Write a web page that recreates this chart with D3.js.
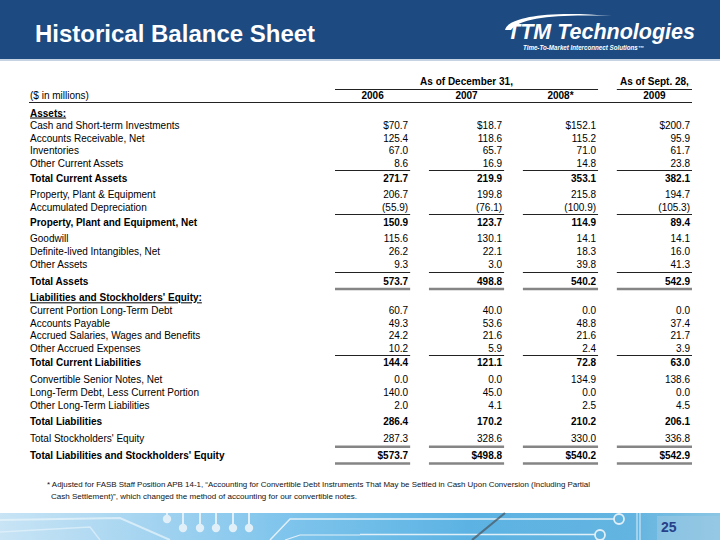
<!DOCTYPE html>
<html><head><meta charset="utf-8">
<script src="https://cdn.jsdelivr.net/npm/d3@7"></script>
<style>
body{margin:0;background:#fff}
svg{display:block}
text{font-family:"Liberation Sans",Arial,Helvetica,sans-serif}
</style>
</head><body><svg id="c" width="720" height="540"></svg>
<script>
// ---------------- data ----------------
const title = "Historical Balance Sheet";
const unitsLabel = "($ in millions)";
const periodLabels = ["As of December 31,", "As of Sept. 28,"];
const years = ["2006", "2007", "2008*", "2009"];
const rowLabels = [
  "Assets:",
  "Cash and Short-term Investments",
  "Accounts Receivable, Net",
  "Inventories",
  "Other Current Assets",
  "Total Current Assets",
  "Property, Plant & Equipment",
  "Accumulated Depreciation",
  "Property, Plant and Equipment, Net",
  "Goodwill",
  "Definite-lived Intangibles, Net",
  "Other Assets",
  "Total Assets",
  "Liabilities and Stockholders' Equity:",
  "Current Portion Long-Term Debt",
  "Accounts Payable",
  "Accrued Salaries, Wages and Benefits",
  "Other Accrued Expenses",
  "Total Current Liabilities",
  "Convertible Senior Notes, Net",
  "Long-Term Debt, Less Current Portion",
  "Other Long-Term Liabilities",
  "Total Liabilities",
  "Total Stockholders' Equity",
  "Total Liabilities and Stockholders' Equity"
];
const values2006 = [null, 70.7, 125.4, 67.0, 8.6, 271.7, 206.7, -55.9, 150.9, 115.6, 26.2, 9.3, 573.7, null, 60.7, 49.3, 24.2, 10.2, 144.4, 0.0, 140.0, 2.0, 286.4, 287.3, 573.7];
const values2007 = [null, 18.7, 118.6, 65.7, 16.9, 219.9, 199.8, -76.1, 123.7, 130.1, 22.1, 3.0, 498.8, null, 40.0, 53.6, 21.6, 5.9, 121.1, 0.0, 45.0, 4.1, 170.2, 328.6, 498.8];
const values2008 = [null, 152.1, 115.2, 71.0, 14.8, 353.1, 215.8, -100.9, 114.9, 14.1, 18.3, 39.8, 540.2, null, 0.0, 48.8, 21.6, 2.4, 72.8, 134.9, 0.0, 2.5, 210.2, 330.0, 540.2];
const values2009 = [null, 200.7, 95.9, 61.7, 23.8, 382.1, 194.7, -105.3, 89.4, 14.1, 16.0, 41.3, 542.9, null, 0.0, 37.4, 21.7, 3.9, 63.0, 138.6, 0.0, 4.5, 206.1, 336.8, 542.9];
const rowKinds = ["section","item","item","item","item","subtotal","item","item","subtotal","item","item","item","total",
                  "section","item","item","item","item","subtotal","item","item","item","total","item","total"];
const dollarRows = [1, 24];
const ruleBelow = {4:"single", 7:"single", 11:"single", 12:"double", 17:"single", 23:"double", 24:"double"};
const footnoteLines = [
  "* Adjusted for FASB Staff Position APB 14-1, \u201CAccounting for Convertible Debt Instruments That May be Settled in Cash Upon Conversion (Including Partial",
  "Cash Settlement)\u201D, which changed the method of accounting for our convertible notes."
];
const logoName = "TTM Technologies";
const logoTagline = "Time-To-Market Interconnect Solutions\u2122";
const pageNumber = "25";

// ---------------- drawing ----------------
const svg = d3.select("#c");
const W = 720, H = 540;
const seriesValues = [values2006, values2007, values2008, values2009];

// header band
svg.append("rect").attr("x",0).attr("y",0).attr("width",W).attr("height",59).attr("fill","#1c4a81");
svg.append("rect").attr("x",0).attr("y",59).attr("width",W).attr("height",2).attr("fill","#c6d3e2");
svg.append("text").attr("x",35).attr("y",41.5).attr("fill","#fff")
  .attr("font-size",24).attr("font-weight","bold").text(title);

// logo
const logo = svg.append("g");
logo.append("path")
  .attr("d","M505,30 C507,18 545,10 612,16 C560,14 520,17 511,30 Z")
  .attr("fill","#fff");
logo.append("text").attr("x",507).attr("y",38.5).attr("fill","#fff")
  .attr("font-size",22).attr("font-weight","bold").attr("font-style","italic")
  .attr("textLength",188).attr("lengthAdjust","spacingAndGlyphs").text(logoName);
logo.append("text").attr("x",523).attr("y",49.5).attr("fill","#fff")
  .attr("font-size",6.3).attr("font-weight","bold").attr("font-style","italic")
  .attr("textLength",121).attr("lengthAdjust","spacingAndGlyphs").text(logoTagline);

// scales
const x = d3.scaleBand().domain(years).range([335, 692]).paddingInner(0.2);
const gapUnits = 0.33, subGapUnits = 0.15;
const units = [];
let u = 0;
rowKinds.forEach((k, i) => {
  if (i > 0) {
    u += 1;
    const prev = rowKinds[i - 1];
    if (prev === "subtotal" || prev === "total" || k === "total") u += gapUnits;
    else if (k === "subtotal") u += subGapUnits;
  }
  units.push(u);
});
const y = d3.scaleLinear().domain([0, d3.max(units)]).range([113, 455.5]);
const rowY = i => y(units[i]);
const baseOff = 3.5, capH = 7.2;

const labelX = 30;
const fmt = d3.format(".1f");
function fmtVal(v, i) {
  const s = fmt(Math.abs(v));
  const d = dollarRows.includes(i) ? "$" : "";
  return v < 0 ? "(" + d + s + ")" : d + s;
}

// column headers
const g = svg.append("g").attr("font-size",10).attr("fill","#000");
const firstSpanX0 = x(years[0]), firstSpanX1 = x(years[2]) + x.bandwidth();
g.append("text").attr("x",(firstSpanX0+firstSpanX1)/2).attr("y",84.5).attr("text-anchor","middle")
  .attr("font-weight","bold").text(periodLabels[0]);
g.append("text").attr("x",x(years[3]) + x.bandwidth()/2).attr("y",84.5).attr("text-anchor","middle")
  .attr("font-weight","bold").text(periodLabels[1]);
g.append("line").attr("x1",firstSpanX0).attr("x2",firstSpanX1).attr("y1",89.5).attr("y2",89.5)
  .attr("stroke","#222").attr("stroke-width",1);
g.append("line").attr("x1",x(years[3])).attr("x2",x(years[3])+x.bandwidth()).attr("y1",89.5).attr("y2",89.5)
  .attr("stroke","#222").attr("stroke-width",1);
g.append("text").attr("x",labelX).attr("y",98.5).text(unitsLabel);
g.selectAll("text.yr").data(years).join("text").attr("class","yr")
  .attr("x",d => x(d) + x.bandwidth()/2).attr("y",98.5).attr("text-anchor","middle")
  .attr("font-weight","bold").text(d => d);
g.append("line").attr("x1",labelX-1).attr("x2",692).attr("y1",102.5).attr("y2",102.5)
  .attr("stroke","#222").attr("stroke-width",1);

// row labels
const rows = rowLabels.map((label, i) => ({label, i, kind: rowKinds[i]}));
const rg = g.selectAll("g.row").data(rows).join("g").attr("class","row");
rg.append("text")
  .attr("x",labelX).attr("y",d => rowY(d.i) + baseOff)
  .attr("font-weight",d => d.kind === "item" ? "normal" : "bold")
  .attr("text-decoration",d => d.kind === "section" ? "underline" : null)
  .text(d => d.label);

// values
years.forEach((yr, c) => {
  const vals = seriesValues[c];
  g.selectAll("text.v" + c).data(vals.map((v, i) => ({v, i})).filter(d => d.v !== null))
    .join("text").attr("class","v" + c)
    .attr("x", x(yr) + x.bandwidth() - 2)
    .attr("y", d => rowY(d.i) + baseOff)
    .attr("text-anchor","end")
    .attr("font-weight", d => rowKinds[d.i] === "item" ? "normal" : "bold")
    .text(d => fmtVal(d.v, d.i));
});

// rules
Object.entries(ruleBelow).forEach(([iStr, kind]) => {
  const i = +iStr;
  let yy;
  if (kind === "single") {
    const below = rowY(i) + baseOff;              // baseline of this row
    const above = rowY(i + 1) + baseOff - capH;   // cap top of next row
    yy = Math.floor((below + above) / 2) + 0.5;
  } else {
    yy = rowY(i) + 8;
  }
  years.forEach(yr => {
    g.append("line").attr("x1",x(yr)).attr("x2",x(yr)+x.bandwidth())
      .attr("y1",yy).attr("y2",yy)
      .attr("stroke", kind === "double" ? "#858585" : "#222")
      .attr("stroke-width", kind === "double" ? 2.6 : 1);
  });
});

// footnote
svg.append("text").attr("x",47).attr("y",487).attr("font-size",8).attr("fill","#111")
  .attr("textLength",543).attr("lengthAdjust","spacingAndGlyphs").text(footnoteLines[0]);
svg.append("text").attr("x",51).attr("y",499).attr("font-size",8).attr("fill","#111")
  .attr("textLength",306).attr("lengthAdjust","spacingAndGlyphs").text(footnoteLines[1]);

// bottom decorative band
const defs = svg.append("defs");
const grad = defs.append("linearGradient").attr("id","bandGrad").attr("x1","0").attr("x2","1").attr("y1","0").attr("y2","0");
[[0,"#c8e4f5"],[0.18,"#a9d6f1"],[0.4,"#7ec4ec"],[0.65,"#5cb3e3"],[0.88,"#63b4e0"],[1,"#8cc6e4"]]
  .forEach(([o,c]) => grad.append("stop").attr("offset",o).attr("stop-color",c));
const band = svg.append("g");
band.append("rect").attr("x",0).attr("y",513).attr("width",W).attr("height",27).attr("fill","url(#bandGrad)");
const lc = "#e1eff8";
band.append("path").attr("d","M0,520 L120,518 L170,540").attr("fill","none").attr("stroke","#eaf5fb").attr("stroke-width",2).attr("opacity",0.7);
band.append("path").attr("d","M0,532 L90,527 L100,540").attr("fill","none").attr("stroke","#eaf5fb").attr("stroke-width",1.5).attr("opacity",0.6);
const pinX = [167, 183, 200, 216, 233, 249];
pinX.forEach((px, k) => {
  const cy = k === 0 ? 519 : 528;
  band.append("line").attr("x1",px).attr("x2",px).attr("y1",513).attr("y2",cy).attr("stroke",lc).attr("stroke-width",2);
  band.append("circle").attr("cx",px).attr("cy",cy).attr("r",4.2).attr("fill",lc);
});
band.append("path").attr("d","M270,540 L290,519 L360,519").attr("fill","none").attr("stroke",lc).attr("stroke-width",1.5);
band.append("path").attr("d","M285,540 L300,535 L360,535").attr("fill","none").attr("stroke",lc).attr("stroke-width",1.2);
band.append("line").attr("x1",360).attr("x2",614).attr("y1",519).attr("y2",519).attr("stroke",lc).attr("stroke-width",1.5);
band.append("line").attr("x1",360).attr("x2",595).attr("y1",534.5).attr("y2",534.5).attr("stroke",lc).attr("stroke-width",1.5);
band.append("circle").attr("cx",619).attr("cy",519).attr("r",5).attr("fill","none").attr("stroke",lc).attr("stroke-width",1.8);
band.append("circle").attr("cx",600).attr("cy",535).attr("r",5).attr("fill","none").attr("stroke",lc).attr("stroke-width",1.8);
band.append("line").attr("x1",505).attr("x2",472).attr("y1",513).attr("y2",540).attr("stroke","#4b5a66").attr("stroke-width",2.2).attr("opacity",0.75);
band.append("line").attr("x1",637).attr("x2",637).attr("y1",513).attr("y2",540).attr("stroke",lc).attr("stroke-width",1);
band.append("line").attr("x1",640).attr("x2",640).attr("y1",513).attr("y2",540).attr("stroke",lc).attr("stroke-width",1);
band.append("rect").attr("x",657).attr("y",516).attr("width",63).attr("height",24).attr("fill","#9fcbe4").attr("opacity",0.55);
band.append("text").attr("x",661).attr("y",532).attr("font-size",14).attr("font-weight","bold").attr("fill","#27418a").text(pageNumber);
</script>
</body></html>
